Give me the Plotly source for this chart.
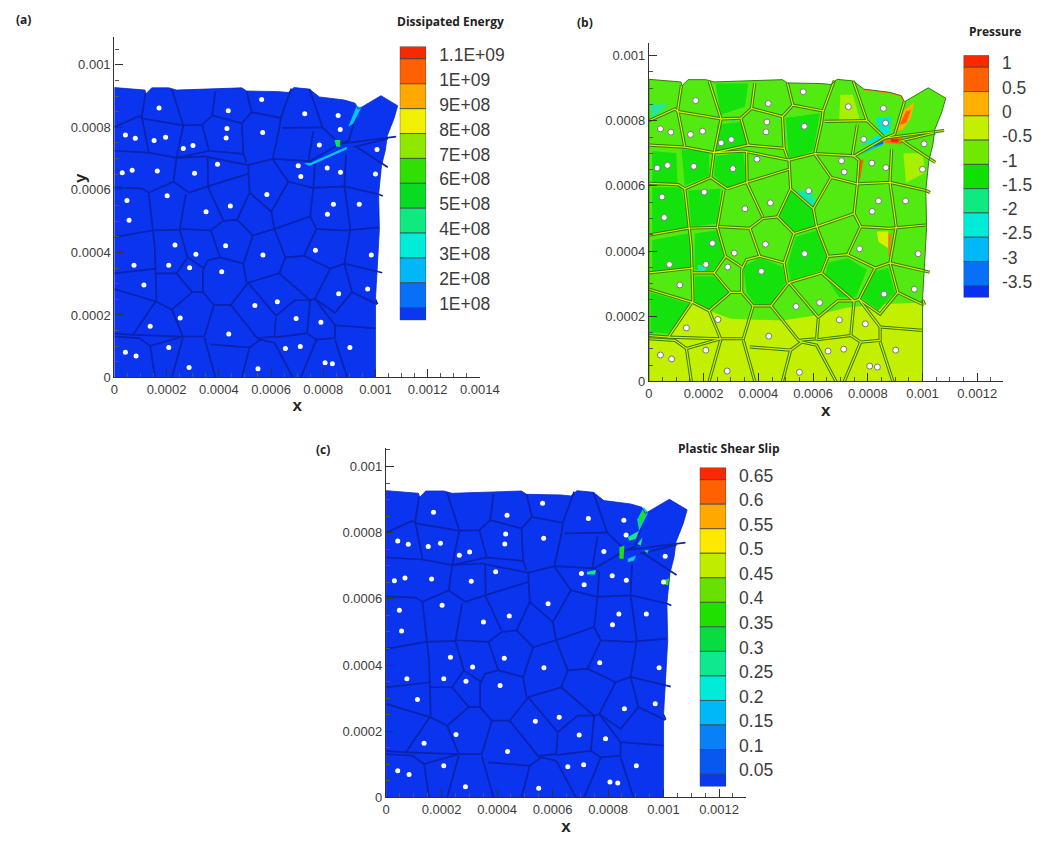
import plotly.graph_objects as go

W, H = 1051, 843
UM = 1e-6

OUTLINE = [(0,927),(117,919),(121,907),(143,926),(208,926),(238,919),(488,926),(506,916),(631,914),(666,911),
           (688,927),(747,922),(785,897),(881,887),(922,877),(934,858),(1021,901),(1085,869),(1071,828),(1045,773),
           (1038,727),(1023,677),(1012,586),(1015,475),(1007,353),(1000,252),(1000,0),(0,0),(0,927)]

BOUNDARIES = [
 [(0,800),(95,836),(107,828),(264,806),(336,808),(375,838),(488,813),(526,848),(637,830)],
 [(119,909),(105,833),(131,722)],
 [(220,921),(264,806),(238,702),(226,626),(286,591)],
 [(387,916),(375,838)], [(336,808),(363,725)],
 [(506,916),(526,848)], [(488,813),(494,717),(506,687)],
 [(678,924),(637,830),(631,793),(607,702)],
 [(747,922),(797,800),(857,752)], [(643,798),(797,800)],
 [(934,858),(898,758),(863,747)],
 [(0,725),(131,719),(238,702),(363,725),(494,715)],
 [(238,702),(345,707),(512,679),(607,699),(750,692)],
 [(762,788),(744,697)],
 [(0,608),(107,604),(131,591),(226,626)], [(286,591),(357,611),(512,651)],
 [(357,707),(359,608),(416,505)],
 [(512,682),(518,591),(470,505),(530,454),(613,475),(601,530),(518,591)],
 [(601,530),(666,626),(607,697)],
 [(666,626),(762,606),(750,515),(774,475),(881,470),(1012,480)],
 [(762,606),(768,679),(744,695)],
 [(762,606),(881,611),(887,712)], [(881,611),(1012,586)],
 [(881,611),(904,475),(881,364),(910,273),(1006,234)],
 [(613,475),(750,515)],
 [(613,475),(655,384),(631,333),(512,303)],
 [(530,454),(494,364),(506,303)],
 [(0,449),(143,470),(250,473),(274,586)],
 [(256,475),(369,470),(416,500),(470,505)],
 [(131,591),(155,414),(161,247)],
 [(369,470),(405,384),(357,374),(339,343),(339,273)],
 [(250,473),(280,384),(238,333),(161,333)],
 [(0,333),(161,348)],
 [(280,384),(345,348)],
 [(405,384),(494,364)],
 [(655,384),(726,389),(827,348),(881,364),(1012,338)],
 [(774,475),(726,389)],
 [(827,348),(768,252),(845,207),(910,273)],
 [(631,333),(750,247),(768,252)],
 [(0,283),(161,242),(220,217),(298,273),(238,333)],
 [(298,273),(339,273),(381,232),(446,232),(512,303)],
 [(161,247),(71,136),(0,141)],
 [(220,217),(262,131),(71,136)],
 [(381,232),(345,131),(262,131)],
 [(446,232),(547,126),(613,131),(619,192)],
 [(512,303),(619,197),(690,247),(750,247)],
 [(750,247),(738,141),(613,128)],
 [(768,252),(845,167),(845,126),(774,121),(738,141)],
 [(845,167),(1000,157)],
 [(0,131),(95,126),(137,101),(262,131)],
 [(137,101),(155,0)], [(262,126),(220,0)], [(345,126),(387,0)],
 [(369,106),(518,96),(488,0)],
 [(518,96),(559,121),(613,111),(684,0)],
 [(774,121),(714,0)], [(845,121),(892,0)], [(547,126),(559,121)],
 [(1012,586),(1028,580)], [(1012,338),(1026,335)], [(1000,250),(1008,235)],
]

CRACKS = [
 [(863,747),(750,692)], [(863,747),(1079,770)], [(928,737),(1047,672)], [(916,737),(1047,763)],
]

TOP_STRIP = [(785,895),(881,885),(922,875),(932,858)]

DOTS = [(42,81),(83,69),(137,164),(208,96),(252,190),(286,32),(438,139),(550,28),(538,230),(624,242),(696,189),
        (791,177),(655,93),(712,99),(902,96),(807,47),(835,44),(859,268),(970,283),(984,392),(770,407),(569,392),
        (426,421),(411,338),(288,351),(312,394),(208,359),(232,424),(75,359),(113,296),(56,503),(48,566),(202,581),
        (351,530),(444,548),(584,585),(816,522),(839,554),(938,554),(1000,651),(866,656),(815,670),(714,643),(704,677),
        (395,682),(307,653),(164,660),(68,663),(30,655),(264,732),(301,742),(196,768),(152,758),(80,765),(42,775),
        (171,862),(436,853),(431,796),(428,766),(568,783),(729,843),(564,889),(857,838),(865,793),(785,743),(1006,729)]

PRESSURE_LOW_BAND = [(0,141),(71,136),(161,247),(220,217),(298,192),(488,187),(607,202),(726,227),(845,237),(1000,242),(1000,0),(0,0)]
PRESSURE_DARK = [
 [(345,353),(405,379),(488,353),(500,303),(446,237),(387,237),(357,273)],
 [(518,586),(601,525),(607,475),(530,460),(476,505)],
 [(12,596),(119,596),(149,464),(12,454)],
 [(143,586),(262,591),(250,485),(155,475)],
 [(250,788),(345,798),(357,725),(244,702)],
 [(119,712),(220,707),(220,631),(131,601)],
 [(244,692),(345,702),(357,616),(286,596),(238,631)],
 [(12,707),(100,700),(105,600),(12,600)],
 [(244,914),(363,914),(351,843),(262,818)],
 [(500,808),(625,823),(601,707),(512,682)],
 [(506,358),(536,444),(613,464),(649,384),(625,338),(518,308)],
 [(655,364),(726,379),(797,343),(756,258),(696,258),(643,323)],
 [(827,338),(875,348),(899,273),(839,217),(774,258)],
 [(12,434),(143,454),(161,353),(12,338)],
 [(167,454),(250,464),(274,384),(232,338),(167,343)],
 [(6,273),(155,237),(71,146),(6,152)],
 [(167,323),(238,323),(292,273),(220,222),(167,247)],
]
PRESSURE_SPOTS = [
 ("#ffb000",[(898,763),(928,829),(970,858),(958,808),(928,773)]),
 ("#ff6000",[(916,788),(940,829),(958,834),(940,793)]),
 ("#ff7000",[(863,752),(928,752),(922,727),(863,732)]),
 ("#f02800",[(885,745),(915,745),(910,733),(885,735)]),
 ("#ff6000",[(764,676),(785,682),(773,626),(764,616)]),
 ("#d8f000",[(833,460),(875,460),(875,409),(839,429)]),
 ("#ff7a00",[(875,454),(887,454),(880,384),(875,384)]),
 ("#00e8d0",[(827,808),(887,813),(881,762),(851,757)]),
 ("#00c0f8",[(750,697),(851,742),(857,727),(762,692)]),
 ("#0860f8",[(820,728),(857,744),(857,730),(825,720)]),
 ("#00e8d0",[(770,725),(850,760),(840,735)]),
 ("#20e8a0",[(6,850),(71,850),(12,808)]),
 ("#10e8b0",[(535,585),(595,585),(612,535),(595,530)]),
 ("#00d0f0",[(274,812),(333,812),(309,798)]),
 ("#00d0f0",[(553,691),(601,697),(583,687)]),
 ("#00d0f0",[(982,656),(1006,656),(1000,636)]),
 ("#20e8a0",[(178,358),(214,353),(202,338),(178,338)]),
 ("#a8f000",[(700,880),(745,880),(772,800),(695,800)]),
 ("#a8f000",[(930,700),(1000,700),(1010,640),(940,610)]),
]
ENERGY_SPOTS = [
 ("#00c8f0",[(896,802),(928,867),(947,865),(915,812)]),
 ("#10e060",[(843,759),(865,759),(865,738),(850,738)]),
 ("#00c8f0",[(735,680),(890,738),(890,730),(751,678)]),
 ("#00c8f0",[(726,686),(758,686),(745,677)]),
]
SLIP_SPOTS = [
 ("#00c8f0",[(905,840),(929,877),(945,862),(912,806)]),
 ("#20e010",[(912,846),(929,871),(938,861),(912,816)]),
 ("#10e890",[(871,786),(912,806),(900,781),(877,776)]),
 ("#20e010",[(841,756),(859,761),(856,721),(841,721)]),
 ("#00c8f0",[(871,721),(900,731),(894,716),(871,711)]),
 ("#10e890",[(724,682),(757,687),(753,674),(724,674)]),
 ("#10e890",[(930,746),(947,748),(941,738)]),
 ("#20e010",[(1003,657),(1020,662),(1020,642),(1006,642)]),
 ("#10e890",[(906,766),(924,786),(918,761)]),
]

TICKS_A = [0,0.0002,0.0004,0.0006,0.0008,0.001,0.0012,0.0014]
TICKS_BC = [0,0.0002,0.0004,0.0006,0.0008,0.001,0.0012]
TICKS_Y = [0,0.0002,0.0004,0.0006,0.0008,0.001]
MINOR_DTICK = 0.00005

ENERGY_LEVELS = [1.1e9,1e9,9e8,8e8,7e8,6e8,5e8,4e8,3e8,2e8,1e8]
ENERGY_LABELS = ["1.1E+09","1E+09","9E+08","8E+08","7E+08","6E+08","5E+08","4E+08","3E+08","2E+08","1E+08"]
ENERGY_EDGES = (1.15e9, 0.5e8)
ENERGY_COLORS = ["#f82800","#ff6000","#ffa800","#f0f000","#90e800","#30e000","#08dc20","#10e880","#00ecd8","#00b8f8","#0870f8","#0838f0"]

PRESSURE_LEVELS = [1,0.5,0,-0.5,-1,-1.5,-2,-2.5,-3,-3.5]
PRESSURE_LABELS = ["1","0.5","0","-0.5","-1","-1.5","-2","-2.5","-3","-3.5"]
PRESSURE_EDGES = (1.245,-3.74)
PRESSURE_COLORS = ["#f82800","#ff6000","#ffb000","#c4f000","#70e800","#10e000","#10e880","#00ecd8","#00b8f8","#0870f8","#0830f0"]

SLIP_LEVELS = [0.65,0.6,0.55,0.5,0.45,0.4,0.35,0.3,0.25,0.2,0.15,0.1,0.05]
SLIP_LABELS = ["0.65","0.6","0.55","0.5","0.45","0.4","0.35","0.3","0.25","0.2","0.15","0.1","0.05"]
SLIP_EDGES = (0.675,0.0245)
SLIP_COLORS = ["#f82800","#ff6000","#ffa800","#ffe800","#c0ec00","#68e000","#20e000","#08dc40","#10e890","#00ecd8","#00b8f8","#0880f8","#0858f0","#0838f0"]

BLUE = "#0a34ee"
GB_BLUE = "#0a22ac"
GREEN = "#52ea10"
GREEN_DARK = "#14e20c"
GREEN_LOW = "#c2f000"
TXT = "#3c3c3c"
FONT = "Liberation Sans"

def dx(a, b): return [a/W, b/W]
def dy(top, bottom): return [1-bottom/H, 1-top/H]
def fmt(v): return "0" if v == 0 else f"{v:.4f}".rstrip("0")
def xs(pts): return [p[0]*UM for p in pts]
def ys(pts): return [p[1]*UM for p in pts]

def joined(polys):
    X, Y = [], []
    for p in polys:
        X += xs(p) + [None]
        Y += ys(p) + [None]
    return X, Y

fig = go.Figure()

def poly(ax, pts, color):
    fig.add_trace(go.Scatter(x=xs(pts), y=ys(pts), mode="lines", fill="toself", fillcolor=color,
                             line=dict(width=0, color=color), xaxis=f"x{ax}", yaxis=f"y{ax}", hoverinfo="skip"))

def lines(ax, polys, color, width):
    X, Y = joined(polys)
    fig.add_trace(go.Scatter(x=X, y=Y, mode="lines", line=dict(color=color, width=width),
                             xaxis=f"x{ax}", yaxis=f"y{ax}", hoverinfo="skip", connectgaps=False))

def dots(ax, size, edge, ew):
    fig.add_trace(go.Scatter(x=xs(DOTS), y=ys(DOTS), mode="markers",
                             marker=dict(size=size, color="white", line=dict(color=edge, width=ew)),
                             xaxis=f"x{ax}", yaxis=f"y{ax}", hoverinfo="skip"))

# (a)
poly("", OUTLINE, BLUE)
lines("", BOUNDARIES + CRACKS, GB_BLUE, 1.7)
for c, p in ENERGY_SPOTS: poly("", p, c)
lines("", [OUTLINE], "#0a28c8", 0.8)
dots("", 5, "white", 0)

# (b)
poly("2", OUTLINE, GREEN)
poly("2", PRESSURE_LOW_BAND, GREEN_LOW)
for p in PRESSURE_DARK: poly("2", p, GREEN_DARK)
for c, p in PRESSURE_SPOTS: poly("2", p, c)
lines("2", BOUNDARIES + CRACKS, "#357a14", 3.2)
lines("2", BOUNDARIES + CRACKS, "#d4ee00", 1.2)
lines("2", [TOP_STRIP], "#ff8a00", 1.4)
lines("2", [OUTLINE], "#357a14", 1)
dots("2", 6, "#777777", 1)

# (c)
poly("3", OUTLINE, BLUE)
lines("3", BOUNDARIES + CRACKS, GB_BLUE, 1.7)
for c, p in SLIP_SPOTS: poly("3", p, c)
lines("3", [OUTLINE], "#0a28c8", 0.8)
dots("3", 5, "white", 0)

def legend(ax, levels, edges, colors):
    e = [edges[0]] + levels + [edges[1]]
    fig.add_trace(go.Bar(x=[0.5]*len(colors), y=[e[i]-e[i+1] for i in range(len(colors))],
                         base=[e[i+1] for i in range(len(colors))], width=1,
                         marker=dict(color=colors, line=dict(color="#3a4a50", width=0.8)),
                         xaxis=f"x{ax}", yaxis=f"y{ax}", hoverinfo="skip"))

legend("4", ENERGY_LEVELS, ENERGY_EDGES, ENERGY_COLORS)
legend("5", PRESSURE_LEVELS, PRESSURE_EDGES, PRESSURE_COLORS)
legend("6", SLIP_LEVELS, SLIP_EDGES, SLIP_COLORS)

def main_axes(xd, yd, xticks, xmax, ymax):
    common = dict(showgrid=False, zeroline=False, showline=True, linecolor="#333333", linewidth=1.4,
                  ticks="inside", ticklen=8, tickcolor="#333333", tickwidth=1.2,
                  tickfont=dict(family=FONT, size=13, color=TXT),
                  minor=dict(ticks="inside", ticklen=4, tickcolor="#555555", tickwidth=0.8, dtick=MINOR_DTICK, showgrid=False))
    xa = dict(common, domain=xd, range=[0, xmax], tickvals=xticks, ticktext=[fmt(v) for v in xticks],
              title=dict(text="<b>x</b>", font=dict(family=FONT, size=17, color="#222222"), standoff=2))
    ya = dict(common, domain=yd, range=[0, ymax], tickvals=TICKS_Y, ticktext=[fmt(v) for v in TICKS_Y])
    return xa, ya

def legend_axes(xd, yd, levels, labels, edges):
    xa = dict(domain=xd, range=[0, 1], visible=False, fixedrange=True)
    ya = dict(domain=yd, range=[edges[1], edges[0]], side="right", showgrid=False, zeroline=False, showline=False,
              ticks="", tickvals=levels, ticktext=labels, ticklabelshift=-4, ticklabelstandoff=12,
              tickfont=dict(family=FONT, size=17.5, color=TXT))
    return xa, ya

xa1, ya1 = main_axes(dx(113,487), dy(35,380), TICKS_A, 0.0014, 0.00109)
xa2, ya2 = main_axes(dx(660,1022), dy(41,384), TICKS_BC, 0.001293, 0.00104)
xa3, ya3 = main_axes(dx(391,759), dy(451,805), TICKS_BC, 0.001296, 0.001057)
xa4, ya4 = legend_axes(dx(405,432), dy(45,322), ENERGY_LEVELS, ENERGY_LABELS, ENERGY_EDGES)
xa5, ya5 = legend_axes(dx(982,1008), dy(54,299), PRESSURE_LEVELS, PRESSURE_LABELS, PRESSURE_EDGES)
xa6, ya6 = legend_axes(dx(712,739), dy(471,794), SLIP_LEVELS, SLIP_LABELS, SLIP_EDGES)

def note(text, px, py, size=12, color="#222222", family="Open Sans", angle=0):
    return dict(text=f"<b>{text}</b>", x=px/W, y=1-py/H, xref="paper", yref="paper", showarrow=False,
                xanchor="center", yanchor="middle", textangle=angle, font=dict(family=family, size=size, color=color))

fig.update_layout(
    width=W, height=H, autosize=False, margin=dict(l=0, r=0, t=0, b=0),
    paper_bgcolor="white", plot_bgcolor="white", showlegend=False,
    xaxis=dict(xa1, anchor="y"), yaxis=dict(ya1, anchor="x"),
    xaxis2=dict(xa2, anchor="y2"), yaxis2=dict(ya2, anchor="x2"),
    xaxis3=dict(xa3, anchor="y3"), yaxis3=dict(ya3, anchor="x3"),
    xaxis4=dict(xa4, anchor="y4"), yaxis4=dict(ya4, anchor="x4"),
    xaxis5=dict(xa5, anchor="y5"), yaxis5=dict(ya5, anchor="x5"),
    xaxis6=dict(xa6, anchor="y6"), yaxis6=dict(ya6, anchor="x6"),
    annotations=[
        note("(a)", 20, 18), note("(b)", 595, 21), note("(c)", 326, 453),
        note("Dissipated Energy", 457, 20), note("Pressure", 1014, 30), note("Plastic Shear Slip", 742, 452),
        note("y", 79, 178, size=17, family=FONT, angle=-90),
    ],
)

fig.write_html("out.html", config=dict(displayModeBar=False),
               post_script="document.body.style.margin='0';document.body.style.overflow='hidden';")
